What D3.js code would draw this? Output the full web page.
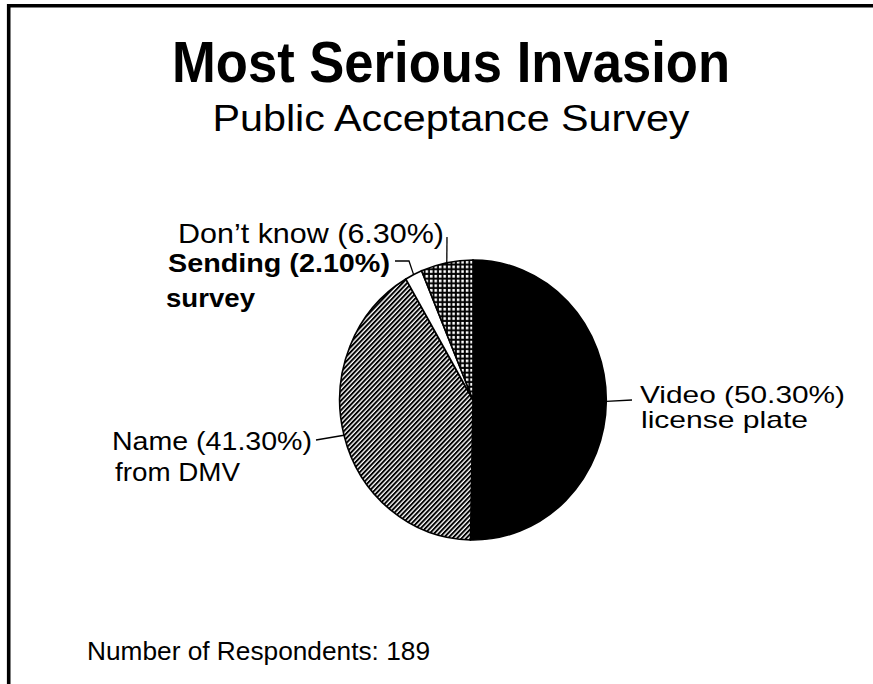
<!DOCTYPE html>
<html>
<head>
<meta charset="utf-8">
<script src="https://cdn.jsdelivr.net/npm/d3@7/dist/d3.min.js"></script>
<style>
  html, body { margin: 0; padding: 0; background: #fff; }
  svg { display: block; }
  text { font-family: "Liberation Sans", Arial, Helvetica, sans-serif; fill: #000; }
</style>
</head>
<body>
<svg id="chart" width="873" height="684"></svg>
<script>
// ---- data ----
const categories = ["Video", "Name", "Sending", "Don\u2019t know"];
const subLabels = ["license plate", "from DMV", "survey", ""];
const values = [50.3, 41.3, 2.1, 6.3];
const respondents = 189;
const titleText = "Most Serious Invasion";
const subtitleText = "Public Acceptance Survey";

// ---- layout ----
const W = 873, H = 684;
const cx = 473, cy = 400, R = 140, sx = 0.952;
const svg = d3.select("#chart");

const defs = svg.append("defs");
// diagonal hatch
const hatch = defs.append("pattern").attr("id", "hatch")
  .attr("patternUnits", "userSpaceOnUse").attr("width", 3.4).attr("height", 3.4)
  .attr("patternTransform", "rotate(45)");
hatch.append("rect").attr("width", 3.4).attr("height", 3.4).attr("fill", "#fff");
hatch.append("line").attr("x1", 1).attr("y1", -1).attr("x2", 1).attr("y2", 5)
  .attr("stroke", "#000").attr("stroke-width", 2);
// grid (white squares on black)
const grid = defs.append("pattern").attr("id", "grid")
  .attr("patternUnits", "userSpaceOnUse").attr("width", 4.7).attr("height", 4.7);
grid.append("rect").attr("width", 4.7).attr("height", 4.7).attr("fill", "#000");
grid.append("rect").attr("x", 1.8).attr("y", 1.8).attr("width", 2.7).attr("height", 2.7).attr("fill", "#fff");

const fills = ["#000", "url(#hatch)", "#fff", "url(#grid)"];

// border (top + left)
svg.append("line").attr("x1", 7).attr("y1", 5.7).attr("x2", W).attr("y2", 5.7)
  .attr("stroke", "#000").attr("stroke-width", 3.4);
svg.append("line").attr("x1", 8.7).attr("y1", 4).attr("x2", 8.7).attr("y2", H)
  .attr("stroke", "#000").attr("stroke-width", 3.6);

// titles
function txt(s, x, y, size, weight, len, anchor) {
  const t = svg.append("text").attr("x", x).attr("y", y)
    .attr("font-size", size).attr("font-weight", weight || 400)
    .attr("text-anchor", anchor || "start").text(s);
  if (len) t.attr("textLength", len).attr("lengthAdjust", "spacingAndGlyphs");
  return t;
}
txt(titleText, 451, 82, 58, 700, 558, "middle");
txt(subtitleText, 451, 131, 37, 400, 477, "middle");

// pie
const pie = d3.pie().sort(null).value(d => d)(values);
const arc = d3.arc().innerRadius(0).outerRadius(R);
const pg = svg.append("g").attr("transform", `translate(${cx},${cy}) scale(${sx},1)`);
pg.selectAll("path").data(pie).join("path")
  .attr("d", arc)
  .attr("fill", (d, i) => fills[i])
  .attr("stroke", "#000").attr("stroke-width", 1.6)
  .attr("vector-effect", "non-scaling-stroke");

function edgePoint(d) {
  const a = (d.startAngle + d.endAngle) / 2;
  return [cx + R * Math.sin(a) * sx, cy - R * Math.cos(a)];
}

// label layout (positions only)
const labelLayout = [
  { path: [[632, 400]], x: 640, y: 403, w: 205, x2: 641, y2: 428, w2: 167, size: 24, weight: 400 },
  { path: [[316, 440]], x: 112, y: 450, w: 200, x2: 115, y2: 481, w2: 125, size: 25, weight: 400 },
  { path: [[409, 261], [395, 261]], x: 168, y: 272, w: 222, x2: 166, y2: 307, w2: 89, size: 26, weight: 700 },
  { path: [[447, 237]], x: 178, y: 243, w: 266, size: 28, weight: 400 }
];

const line = d3.line();
pie.forEach((d, i) => {
  const L = labelLayout[i];
  svg.append("path").attr("d", line([edgePoint(d), ...L.path]))
    .attr("fill", "none").attr("stroke", "#000").attr("stroke-width", 1.3);
  txt(`${categories[i]} (${values[i].toFixed(2)}%)`, L.x, L.y, L.size, L.weight, L.w);
  if (subLabels[i]) txt(subLabels[i], L.x2, L.y2, L.size, L.weight, L.w2);
});

txt(`Number of Respondents: ${respondents}`, 87, 660, 26, 400, 343);
</script>
</body>
</html>
